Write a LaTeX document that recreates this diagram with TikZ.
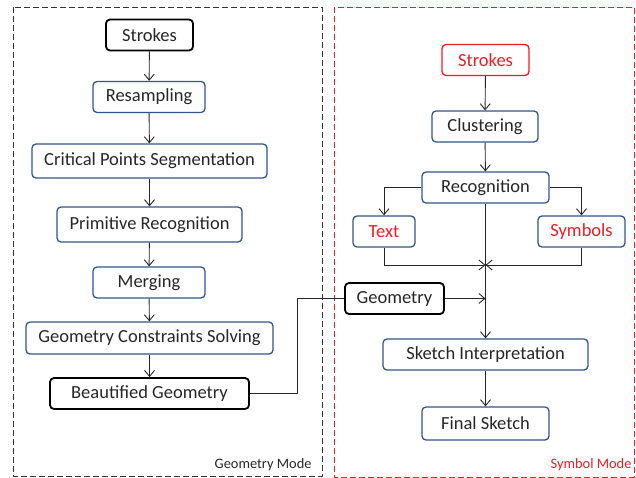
\documentclass[tikz,border=0pt]{standalone}
\usepackage{fontspec}
\setmainfont{Carlito}
\usetikzlibrary{arrows.meta}
\definecolor{boxblue}{RGB}{47,85,140}
\definecolor{boxred}{RGB}{237,28,36}
\definecolor{txt}{RGB}{38,38,38}
\begin{document}
\begin{tikzpicture}[x=1pt,y=-1pt,
  every node/.style={font=\fontsize{18.5}{20}\selectfont, text=txt},
  base/.style={rectangle, rounded corners=4pt, minimum height=31pt, inner sep=0pt},
  bluebox/.style={base, draw=boxblue, line width=1.3pt},
  blackbox/.style={base, draw=black, line width=1.8pt},
  redbox/.style={base, draw=boxred, line width=1.3pt, text=boxred},
  redtxt/.style={bluebox, text=boxred},
  arr/.style={-{Straight Barb[length=6pt,width=10pt]}, line width=0.9pt, draw=txt},
  ln/.style={line width=0.9pt, draw=txt},
  frame/.style={dash pattern=on 6pt off 3pt, line width=0.8pt},
  lbl/.style={font=\fontsize{14.4}{16}\selectfont, anchor=south east}
]
\useasboundingbox (0,0) rectangle (636,478);
% frames
\draw[frame, draw=black!80] (13,7) rectangle (322,476);
\draw[frame, draw=boxred] (334,7) rectangle (634,477);
\node[lbl] (gm) at (315,474) {Geometry Mode};
\node[lbl, text=boxred] (sm) at (635,474) {Symbol Mode};
% left column
\node[blackbox, minimum width=87pt] (s1) at (149.5,35) {Strokes};
\node[bluebox, minimum width=112pt] (rs) at (149,97) {Resampling};
\node[bluebox, minimum width=235pt, minimum height=34pt] (cp) at (149.5,161) {Critical Points Segmentation};
\node[bluebox, minimum width=185pt, minimum height=35pt] (pr) at (149.5,224.5) {Primitive Recognition};
\node[bluebox, minimum width=112pt] (mg) at (149,282.5) {Merging};
\node[bluebox, minimum width=247pt, minimum height=32pt] (gc) at (149.5,338) {Geometry Constraints Solving};
\node[blackbox, minimum width=199pt] (bg) at (149.5,393.5) {Beautified Geometry};
\draw[arr] (s1) -- (rs);
\draw[arr] (rs) -- (cp);
\draw[arr] (cp) -- (pr);
\draw[arr] (pr) -- (mg);
\draw[arr] (mg) -- (gc);
\draw[arr] (gc) -- (bg);
% right column
\node[redbox, minimum width=87pt] (s2) at (485.5,60) {Strokes};
\node[bluebox, minimum width=106pt] (cl) at (485,126.5) {Clustering};
\node[bluebox, minimum width=127pt] (rc) at (485.5,187.5) {Recognition};
\node[redtxt, minimum width=62pt] (tx) at (384,231.5) {Text};
\node[redtxt, minimum width=87pt] (sy) at (581.5,231.5) {Symbols};
\node[blackbox, minimum width=99pt] (ge) at (394.5,298.5) {Geometry};
\node[bluebox, minimum width=205pt] (si) at (485.5,354.5) {Sketch Interpretation};
\node[bluebox, minimum width=127pt, minimum height=33pt] (fs) at (485.5,423.5) {Final Sketch};
\coordinate (j1) at (485.5,265);
\coordinate (j2) at (485.5,298.5);
\coordinate (bend) at (297,298.5);
\draw[arr] (s2) -- (cl);
\draw[arr] (cl) -- (rc);
\draw[arr] (rc.west) -| (tx.north);
\draw[arr] (rc.east) -| (sy.north);
\draw[arr] (rc) -- (si);
\draw[arr] (tx.south) |- (j1);
\draw[arr] (sy.south) |- (j1);
\draw[arr] (ge) -- (j2);
\draw[ln] (bg.east) -| (bend) -- (ge.west);
\draw[arr] (si) -- (fs);
\end{tikzpicture}
\end{document}
